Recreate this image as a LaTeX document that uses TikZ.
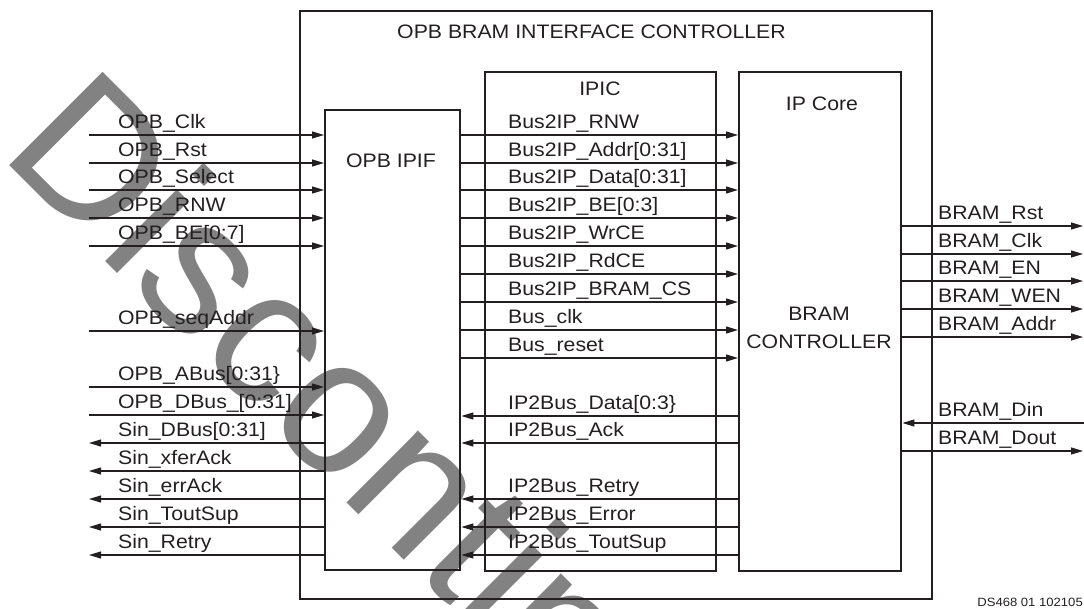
\documentclass[tikz,border=0pt]{standalone}
\usepackage{fontspec}
\setmainfont{Liberation Sans}[FakeStretch=1.09]
\newfontfamily\wmfont{Liberation Sans}
\usetikzlibrary{arrows.meta}
\definecolor{ink}{HTML}{231F20}
\definecolor{wmgray}{HTML}{828282}
\begin{document}
\begin{tikzpicture}[x=1pt,y=-1pt,
  box/.style={draw=ink, line width=2.4pt, inner sep=0pt, anchor=north west},
  sig/.style={draw=ink, line width=1.1pt},
  arr/.style={sig, -{Triangle[length=12pt,width=7pt]}},
  lbl/.style={anchor=base west, inner sep=0pt, text=ink, font=\fontsize{19.5}{22}\selectfont},
  ttl/.style={anchor=base, inner sep=0pt, text=ink, font=\fontsize{19.5}{22}\selectfont},
  wm/.style={anchor=base west, inner sep=0pt, rotate=-45, text=wmgray, font=\wmfont\fontsize{192}{192}\selectfont},
  tag/.style={anchor=base east, inner sep=0pt, text=ink, font=\fontsize{12}{14}\selectfont}
]
\useasboundingbox (0,0) rectangle (1084,608);
% watermark
\node[wm] (wmark) at (-2,154) {Discontinued};
% boxes
\node[box, minimum width=632pt, minimum height=588pt] (outer) at (299,10) {};
\node[box, minimum width=135pt, minimum height=460pt] (ipif) at (324,109) {};
\node[box, minimum width=231pt, minimum height=499pt] (ipic) at (484,71) {};
\node[box, minimum width=162pt, minimum height=499pt] (core) at (738,71) {};
% titles
\node[ttl] (tOuter) at (591.5,38) {OPB BRAM INTERFACE CONTROLLER};
\node[ttl] (tIpic) at (600,95) {IPIC};
\node[ttl] (tCore) at (822,110) {IP Core};
\node[ttl] (tIpif) at (391,167) {OPB IPIF};
\node[ttl] (tBram1) at (819,320) {BRAM};
\node[ttl] (tBram2) at (819,348) {CONTROLLER};
\node[tag] (dsid) at (1083,606) {DS468 01 102105};
% left side inputs
\foreach \n/\y/\t in {a/135/{OPB\_Clk}, b/163/{OPB\_Rst}, c/190/{OPB\_Select}, d/218/{OPB\_RNW}, e/246/{OPB\_BE[0:7]}, f/331/{OPB\_seqAddr}, g/387/{OPB\_ABus[0:31\}}, h/415/{OPB\_DBus\_[0:31]}}{
  \coordinate (in\n) at (89,\y);
  \draw[arr] (in\n) -- (ipif.west |- in\n);
  \node[lbl] (lin\n) at (118,\y-7) {\t};
}
% left side outputs
\foreach \n/\y/\t in {a/443/{Sin\_DBus[0:31]}, b/471/{Sin\_xferAck}, c/499/{Sin\_errAck}, d/527/{Sin\_ToutSup}, e/555/{Sin\_Retry}}{
  \coordinate (out\n) at (89,\y);
  \draw[arr] (ipif.west |- out\n) -- (out\n);
  \node[lbl] (lout\n) at (118,\y-7) {\t};
}
% Bus2IP signals
\foreach \n/\y/\t in {a/135/{Bus2IP\_RNW}, b/163/{Bus2IP\_Addr[0:31]}, c/190/{Bus2IP\_Data[0:31]}, d/218/{Bus2IP\_BE[0:3]}, e/246/{Bus2IP\_WrCE}, f/274/{Bus2IP\_RdCE}, g/302/{Bus2IP\_BRAM\_CS}, h/330/{Bus\_clk}, i/358/{Bus\_reset}}{
  \coordinate (bi\n) at (600,\y);
  \draw[arr] (ipif.east |- bi\n) -- (core.west |- bi\n);
  \node[lbl] (lbi\n) at (508,\y-7) {\t};
}
% IP2Bus signals
\foreach \n/\y/\t in {a/416/{IP2Bus\_Data[0:3\}}, b/443/{IP2Bus\_Ack}, c/499/{IP2Bus\_Retry}, d/527/{IP2Bus\_Error}, e/555/{IP2Bus\_ToutSup}}{
  \coordinate (ib\n) at (600,\y);
  \draw[arr] (core.west |- ib\n) -- (ipif.east |- ib\n);
  \node[lbl] (lib\n) at (508,\y-7) {\t};
}
% BRAM outputs
\foreach \n/\y/\t in {a/226/{BRAM\_Rst}, b/254/{BRAM\_Clk}, c/281/{BRAM\_EN}, d/309/{BRAM\_WEN}, e/337/{BRAM\_Addr}, g/451/{BRAM\_Dout}}{
  \coordinate (bo\n) at (1083,\y);
  \draw[arr] (core.east |- bo\n) -- (bo\n);
  \node[lbl] (lbo\n) at (938,\y-7) {\t};
}
% BRAM input
\coordinate (bof) at (1084,423);
\draw[arr] (bof) -- (core.east |- bof);
\node[lbl] (lbof) at (938,416) {BRAM\_Din};
\end{tikzpicture}
\end{document}
